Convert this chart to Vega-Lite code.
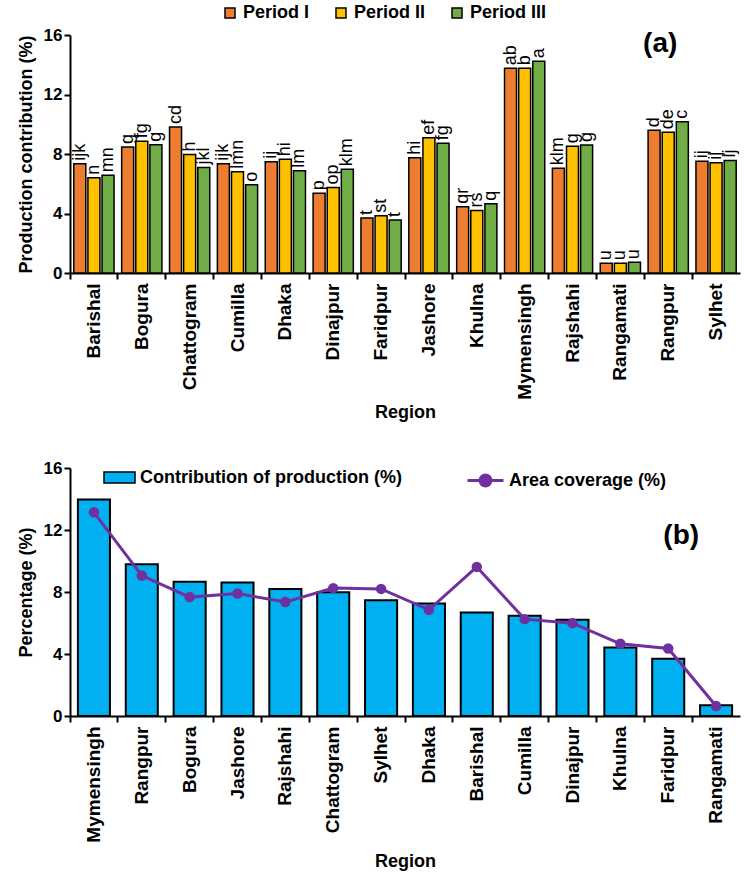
{
  "$schema": "https://vega.github.io/schema/vega-lite/v6.json",
  "padding": {"left": 17, "top": 4, "right": 5, "bottom": 5},
  "background": "white",
  "config": {
    "font": "Liberation Sans",
    "view": {"stroke": null},
    "axis": {
      "grid": false,
      "domainColor": "black",
      "domainWidth": 2,
      "tickColor": "black",
      "tickWidth": 2,
      "tickSize": 6,
      "labelColor": "black",
      "labelFont": "Liberation Sans",
      "labelFontWeight": "bold",
      "labelFontSize": 17,
      "titleColor": "black",
      "titleFont": "Liberation Sans",
      "titleFontWeight": "bold",
      "titleFontSize": 18
    },
    "legend": {
      "labelFont": "Liberation Sans",
      "labelFontWeight": "bold",
      "labelFontSize": 18,
      "labelColor": "black",
      "labelLimit": 0,
      "title": null
    }
  },
  "datasets": {
    "periods": [
      {"region": "Barishal", "period": "Period I", "value": 7.35, "letter": "ijk"},
      {"region": "Barishal", "period": "Period II", "value": 6.41, "letter": "n"},
      {"region": "Barishal", "period": "Period III", "value": 6.57, "letter": "mn"},
      {"region": "Bogura", "period": "Period I", "value": 8.47, "letter": "g"},
      {"region": "Bogura", "period": "Period II", "value": 8.85, "letter": "fg"},
      {"region": "Bogura", "period": "Period III", "value": 8.63, "letter": "g"},
      {"region": "Chattogram", "period": "Period I", "value": 9.81, "letter": "cd"},
      {"region": "Chattogram", "period": "Period II", "value": 7.96, "letter": "h"},
      {"region": "Chattogram", "period": "Period III", "value": 7.1, "letter": "jkl"},
      {"region": "Cumilla", "period": "Period I", "value": 7.35, "letter": "ijk"},
      {"region": "Cumilla", "period": "Period II", "value": 6.81, "letter": "lmn"},
      {"region": "Cumilla", "period": "Period III", "value": 5.94, "letter": "o"},
      {"region": "Dhaka", "period": "Period I", "value": 7.48, "letter": "ij"},
      {"region": "Dhaka", "period": "Period II", "value": 7.64, "letter": "hi"},
      {"region": "Dhaka", "period": "Period III", "value": 6.88, "letter": "lm"},
      {"region": "Dinajpur", "period": "Period I", "value": 5.36, "letter": "p"},
      {"region": "Dinajpur", "period": "Period II", "value": 5.74, "letter": "op"},
      {"region": "Dinajpur", "period": "Period III", "value": 6.97, "letter": "klm"},
      {"region": "Faridpur", "period": "Period I", "value": 3.7, "letter": "t"},
      {"region": "Faridpur", "period": "Period II", "value": 3.85, "letter": "st"},
      {"region": "Faridpur", "period": "Period III", "value": 3.56, "letter": "t"},
      {"region": "Jashore", "period": "Period I", "value": 7.75, "letter": "hi"},
      {"region": "Jashore", "period": "Period II", "value": 9.1, "letter": "ef"},
      {"region": "Jashore", "period": "Period III", "value": 8.72, "letter": "fg"},
      {"region": "Khulna", "period": "Period I", "value": 4.46, "letter": "qr"},
      {"region": "Khulna", "period": "Period II", "value": 4.21, "letter": "rs"},
      {"region": "Khulna", "period": "Period III", "value": 4.66, "letter": "q"},
      {"region": "Mymensingh", "period": "Period I", "value": 13.76, "letter": "ab"},
      {"region": "Mymensingh", "period": "Period II", "value": 13.76, "letter": "b"},
      {"region": "Mymensingh", "period": "Period III", "value": 14.23, "letter": "a"},
      {"region": "Rajshahi", "period": "Period I", "value": 7.04, "letter": "klm"},
      {"region": "Rajshahi", "period": "Period II", "value": 8.52, "letter": "g"},
      {"region": "Rajshahi", "period": "Period III", "value": 8.61, "letter": "g"},
      {"region": "Rangamati", "period": "Period I", "value": 0.65, "letter": "u"},
      {"region": "Rangamati", "period": "Period II", "value": 0.65, "letter": "u"},
      {"region": "Rangamati", "period": "Period III", "value": 0.72, "letter": "u"},
      {"region": "Rangpur", "period": "Period I", "value": 9.59, "letter": "d"},
      {"region": "Rangpur", "period": "Period II", "value": 9.46, "letter": "de"},
      {"region": "Rangpur", "period": "Period III", "value": 10.17, "letter": "c"},
      {"region": "Sylhet", "period": "Period I", "value": 7.51, "letter": "ij"},
      {"region": "Sylhet", "period": "Period II", "value": 7.42, "letter": "ij"},
      {"region": "Sylhet", "period": "Period III", "value": 7.57, "letter": "ij"}
    ],
    "overall": [
      {"region": "Mymensingh", "contribution": 13.96, "area": 13.14},
      {"region": "Rangpur", "contribution": 9.79, "area": 9.06},
      {"region": "Bogura", "contribution": 8.66, "area": 7.67},
      {"region": "Jashore", "contribution": 8.61, "area": 7.9},
      {"region": "Rajshahi", "contribution": 8.2, "area": 7.35},
      {"region": "Chattogram", "contribution": 7.99, "area": 8.25},
      {"region": "Sylhet", "contribution": 7.47, "area": 8.2},
      {"region": "Dhaka", "contribution": 7.26, "area": 6.85},
      {"region": "Barishal", "contribution": 6.68, "area": 9.62},
      {"region": "Cumilla", "contribution": 6.46, "area": 6.25},
      {"region": "Dinajpur", "contribution": 6.21, "area": 5.99},
      {"region": "Khulna", "contribution": 4.42, "area": 4.66},
      {"region": "Faridpur", "contribution": 3.69, "area": 4.36},
      {"region": "Rangamati", "contribution": 0.69, "area": 0.64}
    ]
  },
  "vconcat": [
    {
      "width": 670,
      "height": 238,
      "layer": [
        {
          "data": {"name": "periods"},
          "mark": {"type": "bar", "stroke": "black", "strokeWidth": 1.5},
          "encoding": {
            "x": {
              "field": "region",
              "type": "nominal",
              "scale": {"paddingInner": 0, "paddingOuter": 0},
              "axis": {"labelAngle": -90, "bandPosition": 0, "title": "Region", "labelPadding": 4, "titlePadding": 4, "labelFontSize": 19}
            },
            "y": {
              "field": "value",
              "type": "quantitative",
              "scale": {"domain": [0, 16]},
              "axis": {"values": [0, 4, 8, 12, 16], "title": "Production contribution (%)", "titlePadding": 8}
            },
            "xOffset": {"field": "period", "type": "nominal", "scale": {"paddingInner": 0.15, "paddingOuter": 0.27}},
            "fill": {
              "field": "period",
              "type": "nominal",
              "scale": {"domain": ["Period I", "Period II", "Period III"], "range": ["#ED7D31", "#FFC000", "#70AD47"]},
              "legend": {
                "orient": "none",
                "direction": "horizontal",
                "legendX": 151,
                "legendY": -31,
                "symbolType": "square",
                "symbolSize": 100,
                "columnPadding": 22,
                "labelOffset": 4,
                "encode": {"symbols": {"update": {"stroke": {"value": "black"}, "strokeWidth": {"value": 1.5}}}}
              }
            }
          }
        },
        {
          "data": {"name": "periods"},
          "mark": {"type": "text", "angle": 270, "align": "left", "baseline": "middle", "dx": 3, "fontSize": 18, "font": "Liberation Sans", "color": "black"},
          "encoding": {
            "x": {"field": "region", "type": "nominal"},
            "y": {"field": "value", "type": "quantitative"},
            "xOffset": {"field": "period", "type": "nominal", "scale": {"paddingInner": 0.15, "paddingOuter": 0.27}},
            "text": {"field": "letter"}
          }
        },
        {
          "data": {"values": [{"label": "(a)"}]},
          "mark": {"type": "text", "fontSize": 28, "fontWeight": "bold", "font": "Liberation Sans", "color": "black", "baseline": "middle", "dx": -8},
          "encoding": {
            "x": {"datum": "Rangpur"},
            "y": {"datum": 15.4},
            "text": {"field": "label"}
          }
        }
      ]
    },
    {
      "width": 670,
      "height": 248,
      "layer": [
        {
          "data": {"name": "overall"},
          "mark": {"type": "bar", "stroke": "black", "strokeWidth": 2, "width": {"band": 0.67}},
          "encoding": {
            "x": {
              "field": "region",
              "type": "nominal",
              "sort": ["Mymensingh", "Rangpur", "Bogura", "Jashore", "Rajshahi", "Chattogram", "Sylhet", "Dhaka", "Barishal", "Cumilla", "Dinajpur", "Khulna", "Faridpur", "Rangamati"],
              "scale": {"paddingInner": 0, "paddingOuter": 0},
              "axis": {"labelAngle": -90, "bandPosition": 0, "title": "Region", "labelPadding": 4, "titlePadding": 10, "labelFontSize": 19}
            },
            "y": {
              "field": "contribution",
              "type": "quantitative",
              "scale": {"domain": [0, 16]},
              "axis": {"values": [0, 4, 8, 12, 16], "title": "Percentage (%)", "titlePadding": 8}
            },
            "fill": {
              "datum": "Contribution of production (%)",
              "scale": {"range": ["#00B0F0"]},
              "legend": {
                "orient": "none",
                "legendX": 33,
                "legendY": -7,
                "symbolType": "M-1,-0.36H1V0.36H-1Z",
                "symbolSize": 961,
                "labelOffset": 4,
                "encode": {"symbols": {"update": {"stroke": {"value": "black"}, "strokeWidth": {"value": 2}}}}
              }
            }
          }
        },
        {
          "data": {"name": "overall"},
          "mark": {"type": "line", "strokeWidth": 3},
          "encoding": {
            "x": {"field": "region", "type": "nominal", "sort": ["Mymensingh", "Rangpur", "Bogura", "Jashore", "Rajshahi", "Chattogram", "Sylhet", "Dhaka", "Barishal", "Cumilla", "Dinajpur", "Khulna", "Faridpur", "Rangamati"]},
            "y": {"field": "area", "type": "quantitative"},
            "stroke": {
              "datum": "Area coverage (%)",
              "scale": {"range": ["#7030A0"]},
              "legend": {
                "orient": "none",
                "legendX": 396,
                "legendY": -7,
                "symbolType": "M-1,0H1M-0.3,0A0.3,0.3 0 1,0 0.3,0A0.3,0.3 0 1,0 -0.3,0",
                "symbolSize": 1296,
                "labelOffset": 4,
                "encode": {"symbols": {"update": {"fill": {"value": "#7030A0"}, "stroke": {"value": "#7030A0"}, "strokeWidth": {"value": 3}}}}
              }
            }
          }
        },
        {
          "data": {"name": "overall"},
          "mark": {"type": "point", "filled": true, "size": 110, "color": "#7030A0", "opacity": 1},
          "encoding": {
            "x": {"field": "region", "type": "nominal", "sort": ["Mymensingh", "Rangpur", "Bogura", "Jashore", "Rajshahi", "Chattogram", "Sylhet", "Dhaka", "Barishal", "Cumilla", "Dinajpur", "Khulna", "Faridpur", "Rangamati"]},
            "y": {"field": "area", "type": "quantitative"}
          }
        },
        {
          "data": {"values": [{"label": "(b)"}]},
          "mark": {"type": "text", "fontSize": 28, "fontWeight": "bold", "font": "Liberation Sans", "color": "black", "baseline": "middle", "dx": 13},
          "encoding": {
            "x": {"datum": "Faridpur"},
            "y": {"datum": 11.6},
            "text": {"field": "label"}
          }
        }
      ]
    }
  ],
  "spacing": 37,
  "resolve": {"scale": {"fill": "independent", "stroke": "independent", "x": "independent", "y": "independent"}}
}
